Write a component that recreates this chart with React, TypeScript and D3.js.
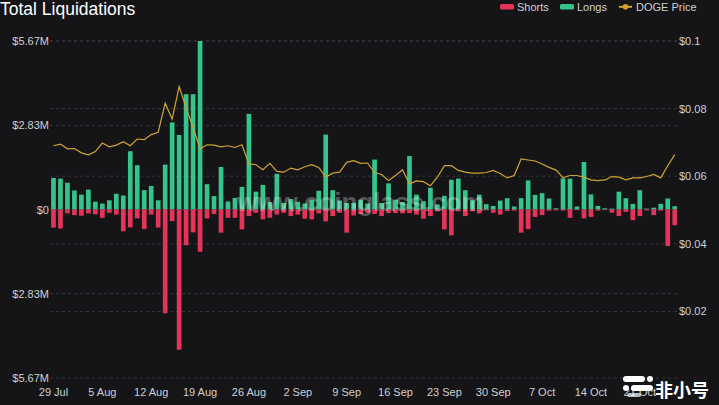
import React from "react";
import * as d3 from "d3";

const START_DATE = "2024-07-29";
const DAY_COUNT = 90;

const longs = [
  1.06, 1.04, 0.9, 0.64, 0.5, 0.67, 0.26, 0.2, 0.31, 0.53,
  0.47, 1.96, 1.49, 0.65, 0.79, 0.31, 1.51, 2.93, 2.51, 3.88,
  3.88, 5.67, 0.85, 0.45, 1.43, 0.27, 0.39, 0.76, 3.22, 0.6,
  0.83, 0.25, 1.2, 0.22, 0.35, 0.26, 0.2, 0.33, 0.63, 2.52,
  0.65, 0.3, 0.22, 0.22, 0.33, 0.2, 1.68, 0.22, 0.88, 0.33,
  0.25, 1.8, 0.5, 0.28, 0.73, 0.17, 0.46, 1.0, 1.04, 0.65,
  0.31, 0.5, 0.18, 0.12, 0.3, 0.38, 0.1, 0.38, 0.98, 0.49,
  0.55, 0.37, 0.04, 1.05, 1.04, 0.1, 1.6, 0.51, 0.12, 0.04,
  0.03, 0.6, 0.38, 0.19, 0.65, 0.03, 0.06, 0.19, 0.37, 0.11,
];

const shorts = [
  0.61, 0.64, 0.13, 0.19, 0.21, 0.13, 0.16, 0.28, 0.11, 0.17,
  0.73, 0.6, 0.3, 0.66, 0.17, 0.61, 3.49, 0.39, 4.72, 1.2,
  0.77, 1.42, 0.3, 0.15, 0.78, 0.28, 0.28, 0.67, 0.22, 0.11,
  0.33, 0.28, 0.17, 0.11, 0.22, 0.17, 0.31, 0.33, 0.13, 0.4,
  0.22, 0.11, 0.78, 0.2, 0.15, 0.11, 0.15, 0.22, 0.12, 0.12,
  0.13, 0.12, 0.17, 0.31, 0.22, 0.06, 0.67, 0.87, 0.06, 0.22,
  0.06, 0.13, 0.03, 0.11, 0.17, 0.05, 0.04, 0.78, 0.66, 0.25,
  0.19, 0.04, 0.03, 0.04, 0.28, 0.02, 0.3, 0.25, 0.04, 0.02,
  0.11, 0.22, 0.08, 0.36, 0.22, 0.03, 0.19, 0.04, 1.23, 0.53,
];

const dogePrice = [
  0.069, 0.0695, 0.0681, 0.0682, 0.0669, 0.0663, 0.0673, 0.0698, 0.0687, 0.0692,
  0.0702, 0.069, 0.071, 0.0708, 0.0723, 0.073, 0.0816, 0.0769, 0.0865, 0.0803,
  0.0744, 0.0681, 0.0693, 0.0692, 0.0687, 0.069, 0.0685, 0.0693, 0.0636, 0.0634,
  0.0619, 0.0638, 0.0614, 0.0612, 0.0624, 0.0619, 0.0628, 0.0634, 0.0626, 0.0597,
  0.0609, 0.0612, 0.0641, 0.0646, 0.0638, 0.0639, 0.0611, 0.0605, 0.0587, 0.0602,
  0.0619, 0.0577, 0.0586, 0.0584, 0.0572, 0.0597, 0.0631, 0.0631, 0.0617, 0.0612,
  0.0609, 0.0609, 0.0611, 0.0617, 0.0608, 0.0595, 0.0602, 0.0651, 0.0648, 0.0645,
  0.0636, 0.0626, 0.0618, 0.0596, 0.0602, 0.0602, 0.0597, 0.0589, 0.0587, 0.0589,
  0.0599, 0.0597, 0.0589, 0.0595, 0.0595, 0.0599, 0.0605, 0.0595, 0.0631, 0.0664,
];

const xTickLabels = [
  "29 Jul", "5 Aug", "12 Aug", "19 Aug", "26 Aug", "2 Sep", "9 Sep",
  "16 Sep", "23 Sep", "30 Sep", "7 Oct", "14 Oct", "21 Oct",
];
const leftTicks = [5.67, 2.83, 0, -2.83, -5.67];
const leftTickLabels = ["$5.67M", "$2.83M", "$0", "$2.83M", "$5.67M"];
const rightTicks = [0.1, 0.08, 0.06, 0.04, 0.02];
const rightTickLabels = ["$0.1", "$0.08", "$0.06", "$0.04", "$0.02"];

const W = 719;
const H = 405;
const FONT = "'Liberation Sans', Arial, Helvetica, sans-serif";
const BG = "#151518";
const GREEN = "#35c48c";
const RED = "#e5345a";
const GOLD = "#d2a32c";
const GRID = "#36363b";
const LABEL = "#cfcfd2";

export default function App() {
  const start = d3.timeParse("%Y-%m-%d")(START_DATE) as Date;
  const dates = d3.timeDay.range(start, d3.timeDay.offset(start, DAY_COUNT));
  const idx = d3.range(dates.length);

  const x = d3
    .scaleBand<number>()
    .domain(idx)
    .range([50, 678.2])
    .paddingInner(0.33)
    .paddingOuter(0.165);
  const yL = d3.scaleLinear().domain([-5.67, 5.67]).range([378, 41]);
  const yR = d3.scaleLinear().domain([0, 0.1]).range([379, 41]);
  const bw = x.bandwidth();
  const cx = (i: number) => (x(i) as number) + bw / 2;

  const line = d3
    .line<number>()
    .x((_, i) => cx(i))
    .y((d) => yR(d))
    .curve(d3.curveLinear);

  const gridYs = [
    ...leftTicks.map((t) => yL(t)),
    ...rightTicks.map((t) => yR(t)),
  ];

  return (
    <svg
      width={W}
      height={H}
      style={{ position: "fixed", left: 0, top: 0, display: "block" }}
      fontFamily={FONT}
    >
      <rect x={0} y={0} width={W} height={H} fill={BG} />

      {/* title */}
      <text x={0} y={14.5} fill="#ffffff" fontSize={17.5}>
        Total Liquidations
      </text>

      {/* legend */}
      <g fontSize={11} fill={LABEL}>
        <rect x={500} y={4} width={14} height={5.5} rx={1.5} fill={RED} />
        <text x={517} y={10.5}>Shorts</text>
        <rect x={560} y={4} width={14} height={5.5} rx={1.5} fill={GREEN} />
        <text x={577} y={10.5}>Longs</text>
        <line x1={619} x2={632} y1={6.8} y2={6.8} stroke={GOLD} strokeWidth={2} />
        <circle cx={625.5} cy={6.8} r={2.8} fill={GOLD} />
        <text x={636} y={10.5}>DOGE Price</text>
      </g>

      {/* grid */}
      <g>
        {gridYs.map((gy, i) => (
          <line
            key={i}
            x1={50}
            x2={678}
            y1={gy}
            y2={gy}
            stroke={GRID}
            strokeWidth={1}
            strokeDasharray="3,3"
          />
        ))}
      </g>

      {/* left axis */}
      <g fontSize={11} fill={LABEL} textAnchor="end">
        {leftTicks.map((t, i) => (
          <text key={i} x={49} y={yL(t) + 4}>
            {leftTickLabels[i]}
          </text>
        ))}
      </g>

      {/* right axis */}
      <g fontSize={11} fill={LABEL} textAnchor="start">
        {rightTicks.map((t, i) => (
          <text key={i} x={679} y={yR(t) + 4}>
            {rightTickLabels[i]}
          </text>
        ))}
      </g>

      {/* bars */}
      <g>
        {longs.map((v, i) => (
          <rect
            key={"l" + i}
            x={x(i)}
            y={yL(v)}
            width={bw}
            height={Math.max(0, yL(0) - yL(v))}
            fill={GREEN}
          />
        ))}
        {shorts.map((v, i) => (
          <rect
            key={"s" + i}
            x={x(i)}
            y={yL(0)}
            width={bw}
            height={Math.max(0, yL(-v) - yL(0))}
            fill={RED}
          />
        ))}
      </g>

      {/* price line */}
      <path d={line(dogePrice) || ""} fill="none" stroke={GOLD} strokeWidth={1.2} />

      {/* watermark */}
      <text
        x={237}
        y={211}
        fontSize={26}
        fontWeight="bold"
        fill="#ffffff"
        fillOpacity={0.28}
      >
        www.coinglass.com
      </text>

      {/* x axis labels */}
      <g fontSize={11} fill={LABEL} textAnchor="middle">
        {xTickLabels.map((lab, k) => (
          <text key={k} x={cx(k * 7)} y={396}>
            {lab}
          </text>
        ))}
      </g>

      {/* corner logo */}
      <g fill="#ffffff">
        <rect x={623} y={376} width={22} height={6} rx={3} />
        <rect x={647} y={376} width={6} height={6} rx={3} />
        <rect x={623} y={385} width={6} height={6} rx={3} />
        <rect x={631} y={385} width={22} height={6} rx={3} />
        <rect x={627} y={393} width={14} height={4} rx={2} opacity={0.7} />
        <text
          x={655}
          y={397}
          fontSize={18}
          fontWeight="bold"
          fontFamily="'Noto Sans CJK SC', sans-serif"
        >
          非小号
        </text>
      </g>
    </svg>
  );
}
